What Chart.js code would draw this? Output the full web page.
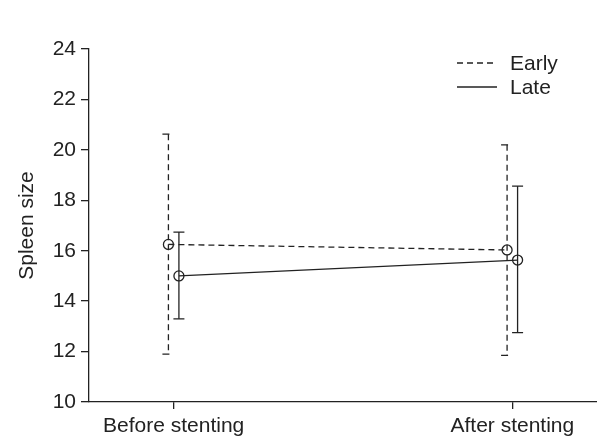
<!DOCTYPE html>
<html>
<head>
<meta charset="utf-8">
<script src="https://cdn.jsdelivr.net/npm/chart.js@4"></script>
<style>
  html, body { margin: 0; padding: 0; background: #fff; }
  canvas { display: block; }
</style>
</head>
<body>
<canvas id="spleenChart" width="597" height="438"></canvas>
<script>
// Data
const categories = ["Before stenting", "After stenting"];
const yTicks = [10, 12, 14, 16, 18, 20, 22, 24];

const earlyMean = [16.25, 16.03];
const earlyLow = [11.9, 11.85];
const earlyHigh = [20.62, 20.2];

const lateMean = [15.0, 15.63];
const lateLow = [13.3, 12.75];
const lateHigh = [16.74, 18.56];

const ink = "#222";
const font = { family: "'Liberation Sans', Arial, sans-serif", size: 21 };

// small horizontal shift so the two groups don't overlap
const dodge = 0.0155;
const toPoints = (vals, shift) => vals.map((v, i) => ({ x: i + shift, y: v }));

// Error bars: dashed ones get a left-only cap, like the original
const errorBars = {
  id: "errorBars",
  beforeDatasetsDraw(chart) {
    const { ctx } = chart;
    const y = chart.scales.y;
    chart.data.datasets.forEach((ds, di) => {
      const meta = chart.getDatasetMeta(di);
      meta.data.forEach((pt, i) => {
        const top = y.getPixelForValue(ds.errHigh[i]);
        const bot = y.getPixelForValue(ds.errLow[i]);
        ctx.save();
        ctx.strokeStyle = ink;
        ctx.lineWidth = 1.3;
        ctx.setLineDash(ds.borderDash || []);
        ctx.beginPath();
        ctx.moveTo(pt.x, top);
        ctx.lineTo(pt.x, bot);
        ctx.stroke();
        ctx.setLineDash([]);
        const l = ds.borderDash ? 6 : 5.5;
        const r = ds.borderDash ? 1 : 5.5;
        ctx.beginPath();
        ctx.moveTo(pt.x - l, top);
        ctx.lineTo(pt.x + r, top);
        ctx.moveTo(pt.x - l, bot);
        ctx.lineTo(pt.x + r, bot);
        ctx.stroke();
        ctx.restore();
      });
    });
  },
};

// Legend in the top right corner
const lineLegend = {
  id: "lineLegend",
  afterDraw(chart) {
    const { ctx } = chart;
    ctx.save();
    ctx.font = `${font.size}px ${font.family}`;
    ctx.fillStyle = ink;
    ctx.textBaseline = "middle";
    chart.data.datasets.forEach((ds, i) => {
      const yy = 63 + i * 24;
      ctx.strokeStyle = ink;
      ctx.lineWidth = 1.3;
      ctx.setLineDash(ds.borderDash || []);
      ctx.beginPath();
      ctx.moveTo(457, yy);
      ctx.lineTo(497, yy);
      ctx.stroke();
      ctx.fillText(ds.label, 510, yy + 1);
    });
    ctx.restore();
  },
};

new Chart(document.getElementById("spleenChart"), {
  type: "line",
  data: {
    datasets: [
      {
        label: "Early",
        data: toPoints(earlyMean, -dodge),
        errLow: earlyLow,
        errHigh: earlyHigh,
        borderColor: ink,
        borderWidth: 1.3,
        borderDash: [6, 4],
        pointRadius: 5,
        pointBorderWidth: 1.3,
        pointBorderColor: ink,
        pointBackgroundColor: "rgba(0,0,0,0)",
        tension: 0,
      },
      {
        label: "Late",
        data: toPoints(lateMean, dodge),
        errLow: lateLow,
        errHigh: lateHigh,
        borderColor: ink,
        borderWidth: 1.3,
        pointRadius: 5,
        pointBorderWidth: 1.3,
        pointBorderColor: ink,
        pointBackgroundColor: "rgba(0,0,0,0)",
        tension: 0,
      },
    ],
  },
  options: {
    responsive: false,
    animation: false,
    devicePixelRatio: 1,
    layout: { autoPadding: false, padding: { top: 49, right: 0, left: 0, bottom: 0 } },
    plugins: { legend: { display: false }, tooltip: { enabled: false } },
    scales: {
      x: {
        type: "linear",
        min: -0.25,
        max: 1.25,
        afterBuildTicks: (s) => { s.ticks = categories.map((_, i) => ({ value: i })); },
        afterFit: (s) => { s.height = 36; s.paddingLeft = 0; s.paddingRight = 0; },
        ticks: {
          color: ink,
          font: font,
          padding: 5,
          maxRotation: 0,
          callback: (v) => categories[v],
        },
        grid: { drawOnChartArea: false, tickLength: 7, tickColor: ink, lineWidth: 1.3 },
        border: { display: true, color: ink, width: 1.3 },
      },
      y: {
        min: 10,
        max: 24,
        afterBuildTicks: (s) => { s.ticks = yTicks.map((v) => ({ value: v })); },
        afterFit: (s) => { s.width = 89; s.paddingTop = 0; s.paddingBottom = 0; },
        ticks: { color: ink, font: font, padding: 5 },
        title: { display: true, text: "Spleen size", color: ink, font: font, padding: { top: 15, bottom: 0 } },
        grid: { drawOnChartArea: false, tickLength: 8, tickColor: ink, lineWidth: 1.3 },
        border: { display: true, color: ink, width: 1.3 },
      },
    },
  },
  plugins: [errorBars, lineLegend],
});
</script>
</body>
</html>
